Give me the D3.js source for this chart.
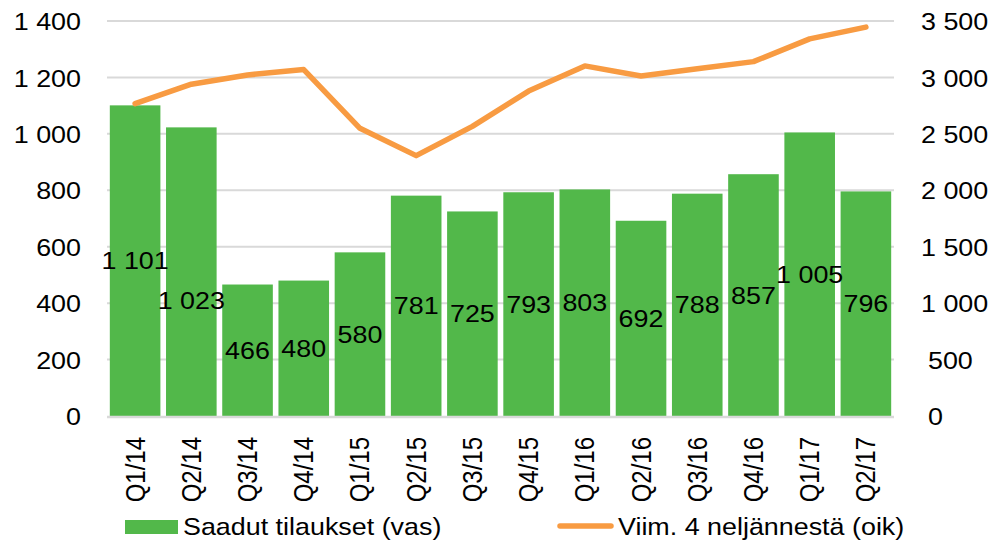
<!DOCTYPE html>
<html><head><meta charset="utf-8">
<script src="https://cdn.jsdelivr.net/npm/d3@7"></script>
<style>
html,body{margin:0;padding:0;background:#fff;}
svg{display:block;font-family:"Liberation Sans",Arial,sans-serif;}
</style></head>
<body><svg id="c" width="992" height="541"></svg>
<script>
// ---- data ----
const categories = ["Q1/14","Q2/14","Q3/14","Q4/14","Q1/15","Q2/15","Q3/15","Q4/15","Q1/16","Q2/16","Q3/16","Q4/16","Q1/17","Q2/17"];
const orders = [1101,1023,466,480,580,781,725,793,803,692,788,857,1005,796];
const rolling4 = [2768,2940,3022,3070,2549,2307,2566,2879,3102,3013,3076,3140,3342,3446];
const leftTicks = [0,200,400,600,800,1000,1200,1400];
const rightTicks = [0,500,1000,1500,2000,2500,3000,3500];
const seriesNames = ["Saadut tilaukset (vas)","Viim. 4 neljännestä (oik)"];

const GREEN = "#52b84a", ORANGE = "#f89b42", GRID = "#d9d9d9";
const FS = 24, SX = 1.12;
const L = 107, R = 894, T = 21, B = 416;

const svg = d3.select("#c");
const fmt = d3.formatLocale({decimal:",", thousands:"\u00a0", grouping:[3], currency:["",""]}).format(",d");

const x = d3.scaleBand().domain(categories).range([L, R]).paddingInner(0.1).paddingOuter(0.05);
const yL = d3.scaleLinear().domain([0,1400]).range([B, T]);
const yR = d3.scaleLinear().domain([0,3500]).range([B, T]);

// stretch helper: horizontal scale on text
function stretch(sel){
  sel.each(function(){
    const t = d3.select(this);
    const xx = +t.attr("x") || 0;
    t.attr("x", xx / SX).attr("transform", `scale(${SX},1)`);
  });
}

// gridlines
svg.append("g").selectAll("line").data(leftTicks.filter(d=>d>0)).join("line")
  .attr("x1", L).attr("x2", R).attr("y1", d=>yL(d)).attr("y2", d=>yL(d))
  .attr("stroke", GRID).attr("stroke-width", 2);

// bars
svg.append("g").selectAll("rect").data(orders).join("rect")
  .attr("x", (d,i)=>x(categories[i])).attr("width", x.bandwidth())
  .attr("y", d=>yL(d)).attr("height", d=>yL(0)-yL(d))
  .attr("fill", GREEN);

// baseline
svg.append("line").attr("x1", L).attr("x2", R).attr("y1", yL(0)+1).attr("y2", yL(0)+1)
  .attr("stroke", GRID).attr("stroke-width", 2.5);

// line
const line = d3.line().x((d,i)=>x(categories[i]) + x.bandwidth()/2).y(d=>yR(d));
svg.append("path").datum(rolling4).attr("d", line)
  .attr("fill","none").attr("stroke", ORANGE).attr("stroke-width", 5.5)
  .attr("stroke-linecap","round").attr("stroke-linejoin","round");

// bar labels (centered in bar)
const labelNudge = {"Q2/14": 29};
const lbl = svg.append("g").selectAll("g").data(orders).join("g")
  .attr("transform", (d,i)=>`translate(${x(categories[i]) + x.bandwidth()/2},${(yL(d)+yL(0))/2 + (labelNudge[categories[i]]||0)})`);
lbl.append("text").attr("text-anchor","middle").attr("dy","0.36em")
  .attr("font-size", FS).attr("fill","#000").text(d=>fmt(d)).call(stretch);

// left axis
const ax = svg.append("g").attr("transform", `translate(${L},0)`)
  .call(d3.axisLeft(yL).tickValues(leftTicks).tickSize(0).tickPadding(26).tickFormat(fmt));
ax.select(".domain").remove();
ax.selectAll("text").attr("font-size", FS).attr("fill","#000").attr("font-family",null).attr("dy","0.36em").call(stretch);

// right axis
const ar = svg.append("g").attr("transform", `translate(${R},0)`)
  .call(d3.axisRight(yR).tickValues(rightTicks).tickSize(0).tickPadding(34).tickFormat(fmt));
ar.select(".domain").remove();
ar.selectAll("text").attr("font-size", FS).attr("fill","#000").attr("font-family",null).attr("dy","0.36em")
  .attr("x", d => d >= 1000 ? 27 : 34).call(stretch);

// x axis labels (rotated)
const ab = svg.append("g").attr("transform", `translate(0,${B})`)
  .call(d3.axisBottom(x).tickSize(0).tickPadding(0));
ab.select(".domain").remove();
ab.selectAll(".tick text")
  .attr("font-size", FS).attr("fill","#000").attr("font-family",null)
  .attr("text-anchor","end").attr("x",0).attr("y",0).attr("dy",null)
  .attr("transform", `translate(0,21) scale(${SX},1) rotate(-90) translate(0,8.5)`);

// legend
const lg = svg.append("g");
lg.append("rect").attr("x",125).attr("y",520).attr("width",53).attr("height",14).attr("fill",GREEN);
lg.append("text").attr("x",183).attr("y",535).attr("font-size",FS).attr("fill","#000").text(seriesNames[0]).call(stretch);
lg.append("line").attr("x1",560).attr("x2",611).attr("y1",526).attr("y2",526)
  .attr("stroke",ORANGE).attr("stroke-width",5.5).attr("stroke-linecap","round");
lg.append("text").attr("x",618).attr("y",535).attr("font-size",FS).attr("fill","#000").text(seriesNames[1]).call(stretch);
</script></body></html>
